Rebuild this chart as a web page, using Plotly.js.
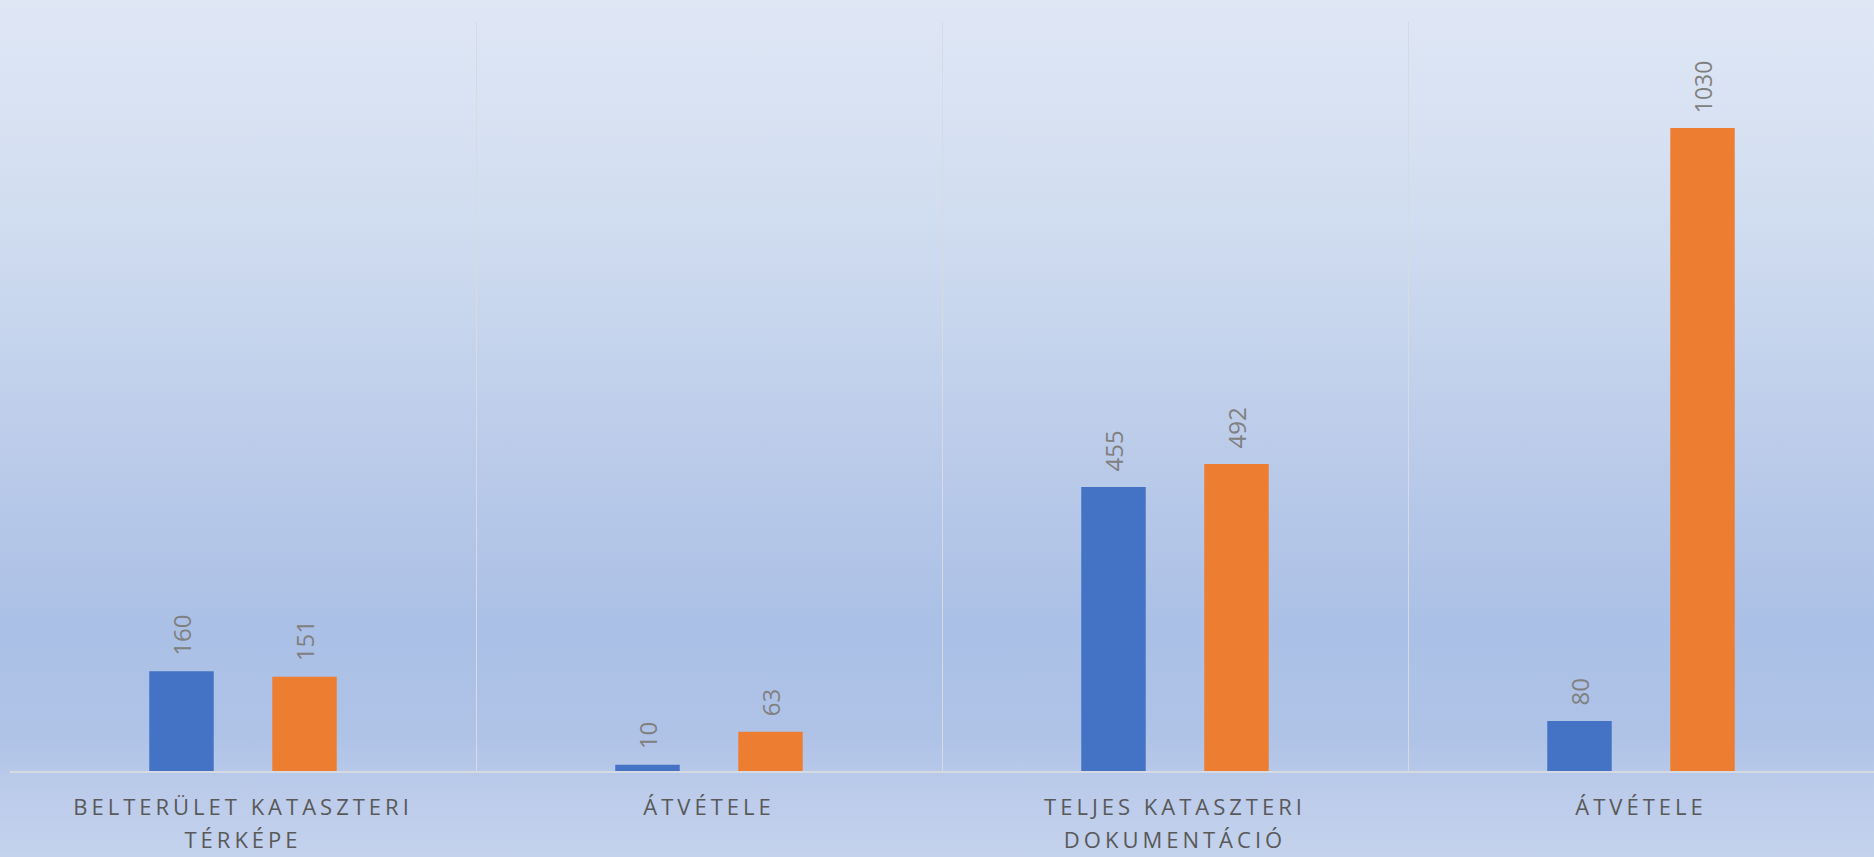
<!DOCTYPE html>
<html>
<head>
<meta charset="utf-8">
<script src="https://cdn.plot.ly/plotly-3.0.1.min.js"></script>
<style>
  html, body { margin: 0; padding: 0; }
  #chart {
    width: 1874px; height: 857px;
    background: linear-gradient(to bottom, #dfe7f5 0%, #d1ddf0 25%, #bdcdea 50%, #abc0e6 73%, #afc3e7 86%, #bbcbea 92%, #c4d2ec 100%);
  }
  #chart .xtick text { letter-spacing: 4px; }
</style>
</head>
<body>
<div id="chart"></div>
<script>
// Data
const categories = [
  "BELTERÜLET KATASZTERI<br>TÉRKÉPE",
  "ÁTVÉTELE",
  "TELJES KATASZTERI<br>DOKUMENTÁCIÓ",
  "ÁTVÉTELE"
];
const series1 = [160, 10, 455, 80];
const series2 = [151, 63, 492, 1030];
const seriesNames = ["Sorozat 1", "Sorozat 2"];

// Unique keys so the repeated "ÁTVÉTELE" label stays a separate category
const keys = categories.map((c, i) => "k" + i);

const labelFont = { family: "Open Sans, sans-serif", size: 24, color: "#808080" };
// two no-break spaces push the rotated value label a little off the bar top
const labelTemplate = "\u00a0\u00a0%{y}";

const traces = [
  {
    type: "bar", name: seriesNames[0], x: keys, y: series1,
    marker: { color: "#4472C4" },
    texttemplate: labelTemplate, textposition: "outside", textangle: -90,
    textfont: labelFont, cliponaxis: false, hoverinfo: "y"
  },
  {
    type: "bar", name: seriesNames[1], x: keys, y: series2,
    marker: { color: "#ED7D31" },
    texttemplate: labelTemplate, textposition: "outside", textangle: -90,
    textfont: labelFont, cliponaxis: false, hoverinfo: "y"
  }
];

const layout = {
  width: 1874, height: 857,
  margin: { l: 10, r: 0, t: 22, b: 86 },
  paper_bgcolor: "rgba(0,0,0,0)",
  plot_bgcolor: "rgba(0,0,0,0)",
  showlegend: false,
  barmode: "group",
  bargap: 0.472,
  bargroupgap: 0.476,
  xaxis: {
    type: "category",
    categoryarray: keys,
    tickmode: "array",
    tickvals: keys,
    ticktext: categories,
    tickson: "boundaries",
    showgrid: true,
    gridcolor: "#d6dbe3",
    gridwidth: 1,
    showline: true,
    linecolor: "#d6dbe3",
    linewidth: 2,
    ticks: "",
    ticklabelstandoff: 16,
    tickfont: { family: "Open Sans, sans-serif", size: 22, color: "#595959" },
    fixedrange: true
  },
  yaxis: {
    range: [0, 1200],
    showgrid: false,
    zeroline: false,
    showticklabels: false,
    showline: false,
    fixedrange: true
  }
};

Plotly.newPlot("chart", traces, layout, { displayModeBar: false, staticPlot: true }).then(function () {
  // widen the line spacing of the two-line category labels
  document.querySelectorAll("#chart .xtick text").forEach(function (t) {
    const lines = t.querySelectorAll("tspan.line");
    lines.forEach(function (ln, i) { if (i > 0) ln.setAttribute("dy", "1.5em"); });
  });
});
</script>
</body>
</html>
